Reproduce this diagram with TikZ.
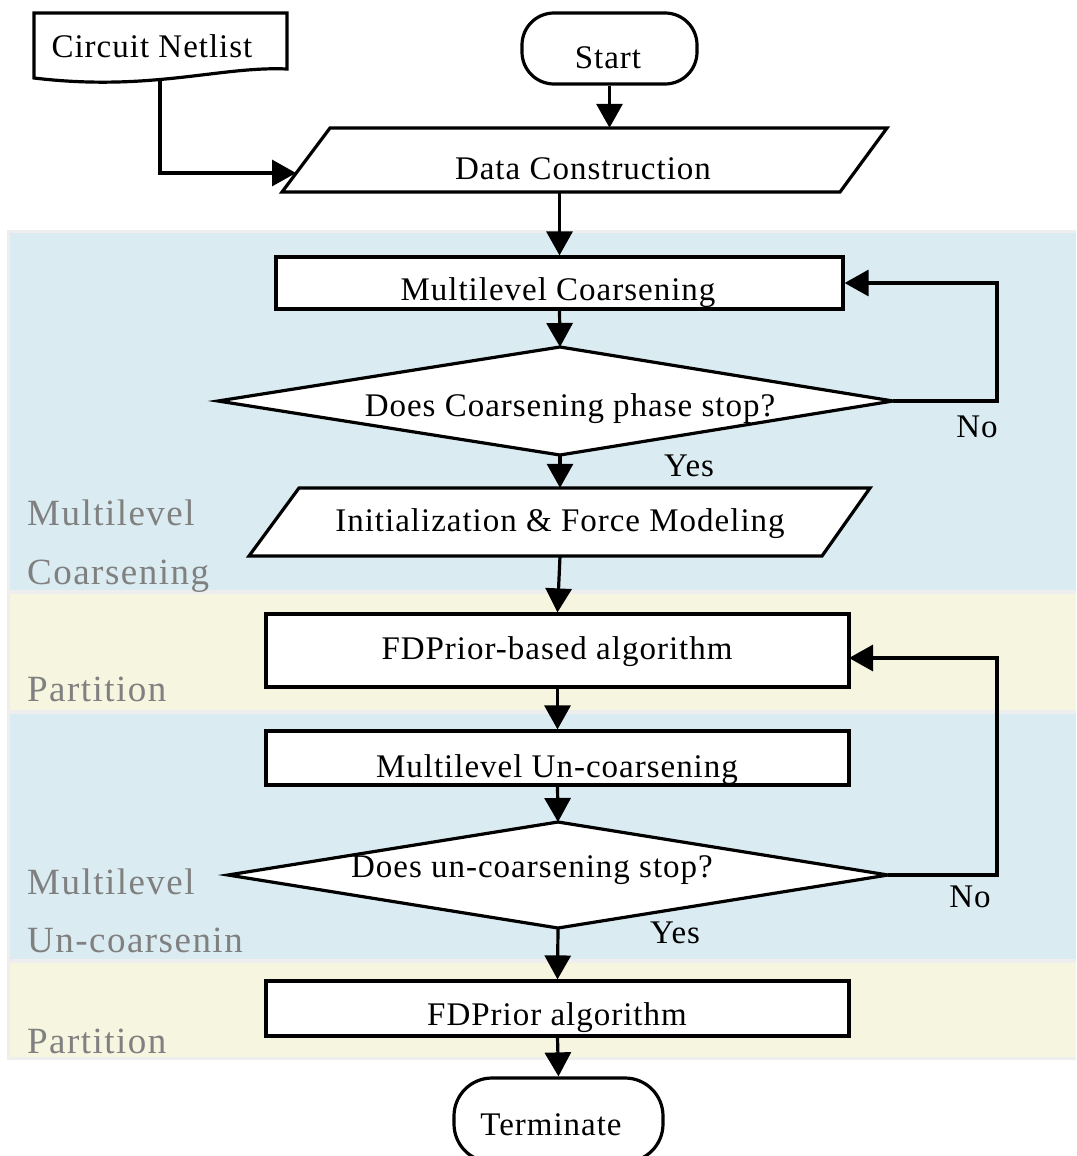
\documentclass[tikz,border=0pt]{standalone}
\usepackage{fontspec}
\setmainfont{Liberation Serif}[LetterSpace=3]
\usetikzlibrary{arrows.meta}
\definecolor{bandblue}{HTML}{DAECF2}
\definecolor{bandyellow}{HTML}{F6F6E0}
\definecolor{bandgray}{HTML}{EEEEEE}
\definecolor{lblgray}{HTML}{808080}
\begin{document}
\begin{tikzpicture}[x=1pt,y=-1pt,
  box/.style={draw, line width=3.2pt, fill=white, inner sep=0pt},
  shp/.style={draw, line width=3.2pt, fill=white, line join=miter},
  anc/.style={inner sep=0pt},
  txt/.style={inner sep=0pt, anchor=base, font=\fontsize{33pt}{40pt}\selectfont},
  arr/.style={line width=3.2pt, -{Triangle[length=24pt,width=26pt]}},
  bandlbl/.style={text=lblgray, inner sep=0pt, anchor=base west, font=\fontsize{37pt}{44pt}\selectfont\addfontfeatures{LetterSpace=4}}]
\useasboundingbox (0,0) rectangle (1076,1156);
% bands
\fill[bandgray] (7,230) rectangle (1076,1060);
\fill[bandblue] (10,233) rectangle (1076,590);
\fill[bandyellow] (10,594) rectangle (1076,710);
\fill[bandblue] (10,714) rectangle (1076,959);
\fill[bandyellow] (10,963) rectangle (1076,1057);
\node[bandlbl] (l1a) at (27,525) {Multilevel};
\node[bandlbl] (l1b) at (27,584) {Coarsening};
\node[bandlbl] (l2) at (27,701) {Partition};
\node[bandlbl] (l3a) at (27,894) {Multilevel};
\node[bandlbl] (l3b) at (27,952) {Un-coarsenin};
\node[bandlbl] (l4) at (27,1053) {Partition};
% circuit netlist (document shape)
\draw[shp] (34,13) -- (287,13) -- (287,69) .. controls (220,66) and (150,92) .. (34,78) -- cycle;
\node[txt] (cn) at (152,58) {Circuit Netlist};
\coordinate (cnb) at (160,81);
% start
\node[box, rounded corners=32pt, minimum width=175pt, minimum height=71pt] (start) at (609.5,48.5) {};
\node[txt] (startt) at (608,68) {Start};
% data construction
\draw[shp] (330,128) -- (887,128) -- (840,192) -- (282,192) -- cycle;
\node[anc, minimum width=500pt, minimum height=64pt] (dc) at (583,160) {};
\node[txt] (dct) at (583,179) {Data Construction};
\coordinate (dcl) at (296,173);
% multilevel coarsening
\node[box, minimum width=567pt, minimum height=52pt] (mc) at (559.5,283) {};
\node[txt] (mct) at (558,300) {Multilevel Coarsening};
% diamond 1
\draw[shp] (218,401) -- (560,347) -- (893,401) -- (560,455) -- cycle;
\coordinate (d1t) at (560,347);
\coordinate (d1b) at (560,455);
\coordinate (d1r) at (893,401);
\node[txt] (d1) at (570,416) {Does Coarsening phase stop?};
% init
\draw[shp] (299,488) -- (870,488) -- (822,556) -- (249,556) -- cycle;
\node[anc, minimum width=500pt, minimum height=68pt] (init) at (560,522) {};
\node[txt] (initt) at (560,531) {Initialization \& Force Modeling};
% FDPrior-based
\node[box, minimum width=583pt, minimum height=73pt] (fdb) at (557.5,650.5) {};
\node[txt] (fdbt) at (557,659) {FDPrior-based algorithm};
\coordinate (fdbin) at (849,658);
% multilevel un-coarsening
\node[box, minimum width=583pt, minimum height=54pt] (mu) at (557.5,758) {};
\node[txt] (mut) at (557,777) {Multilevel Un-coarsening};
% diamond 2
\draw[shp] (228,875) -- (558,822) -- (888,875) -- (558,928) -- cycle;
\coordinate (d2t) at (558,822);
\coordinate (d2b) at (558,928);
\coordinate (d2r) at (888,875);
\node[txt] (d2) at (532,877) {Does un-coarsening stop?};
% FDPrior algorithm
\node[box, minimum width=583pt, minimum height=55pt] (fda) at (557.5,1008.5) {};
\node[txt] (fdat) at (557,1025) {FDPrior algorithm};
% terminate
\node[box, rounded corners=38pt, minimum width=209pt, minimum height=84pt] (term) at (558.5,1120) {};
\node[txt] (termt) at (551,1135) {Terminate};
% labels
\node[txt] (no1) at (977,437) {No};
\node[txt] (yes1) at (689,476) {Yes};
\node[txt] (no2) at (970,907) {No};
\node[txt] (yes2) at (675,943) {Yes};
% connectors
\draw[arr] (start.south) -- (start.south |- dc.north);
\draw[arr] (cnb) |- (dcl);
\draw[arr] (mc.north |- dc.south) -- (mc.north);
\draw[arr] (mc.south) -- (d1t);
\draw[arr] (d1r) -- ++(104,0) |- (mc.east);
\draw[arr] (d1b) -- (init.north -| d1b);
\draw[arr] (init.south) -- (fdb.north);
\draw[arr] (fdb.south) -- (mu.north);
\draw[arr] (mu.south) -- (d2t);
\draw[arr] (d2r) -- ++(109,0) |- (fdbin);
\draw[arr] (d2b) -- (fda.north);
\draw[arr] (fda.south) -- (term.north);
\end{tikzpicture}
\end{document}
